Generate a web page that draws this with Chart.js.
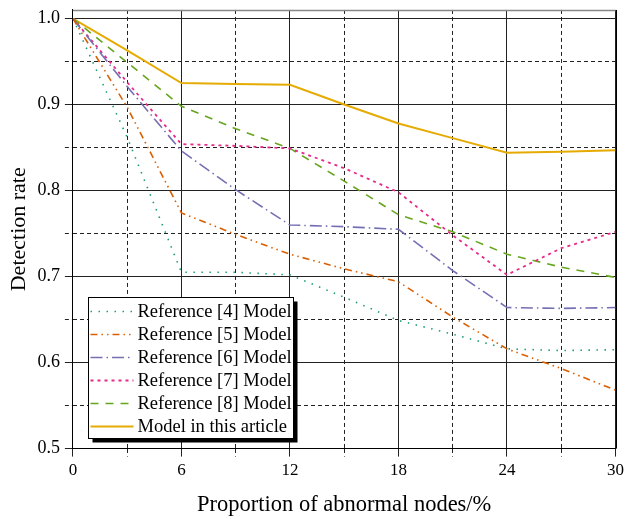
<!DOCTYPE html>
<html>
<head>
<meta charset="utf-8">
<script src="https://cdn.jsdelivr.net/npm/chart.js@4.4.1/dist/chart.umd.min.js"></script>
<style>
    html, body { margin: 0; padding: 0; background: #fff; }
    #wrap { width: 628px; height: 519px; }
</style>
</head>
<body>
<div id="wrap"><canvas id="chart" width="628" height="519"></canvas></div>
<script>
// proportion of abnormal nodes (%)
const proportions = [0, 3, 6, 9, 12, 15, 18, 21, 24, 27, 30];

// detection rate per model
const ref4Rates = [1.0, 0.862, 0.705, 0.705, 0.702, 0.676, 0.649, 0.633, 0.616, 0.614, 0.615];
const ref5Rates = [1.0, 0.897, 0.774, 0.749, 0.726, 0.709, 0.694, 0.653, 0.616, 0.593, 0.568];
const ref6Rates = [1.0, 0.921, 0.846, 0.801, 0.760, 0.758, 0.755, 0.707, 0.664, 0.663, 0.664];
const ref7Rates = [1.0, 0.926, 0.854, 0.852, 0.849, 0.826, 0.798, 0.748, 0.702, 0.733, 0.752];
const ref8Rates = [1.0, 0.949, 0.898, 0.872, 0.849, 0.811, 0.772, 0.752, 0.726, 0.711, 0.699];
const ownRates  = [1.0, 0.963, 0.925, 0.924, 0.923, 0.900, 0.878, 0.861, 0.844, 0.845, 0.847];

const seriesNames = [
    'Reference [4] Model',
    'Reference [5] Model',
    'Reference [6] Model',
    'Reference [7] Model',
    'Reference [8] Model',
    'Model in this article'
];

// axis ticks (minor ticks get dashed grid lines, no label)
const xTicks = [0, 3, 6, 9, 12, 15, 18, 21, 24, 27, 30];
const xLabelTicks = [0, 6, 12, 18, 24, 30];
const yTicks = [0.5, 0.55, 0.6, 0.65, 0.7, 0.75, 0.8, 0.85, 0.9, 0.95, 1.0];
const yLabelTicks = [0.5, 0.6, 0.7, 0.8, 0.9, 1.0];

const serif = '"Liberation Serif", "Times New Roman", serif';

const styles = [
    { color: '#1B9E77', dash: [1.5, 6.5], width: 1.6 },
    { color: '#D95F02', dash: [7, 4, 1.5, 4, 1.5, 4], width: 1.6 },
    { color: '#7570B3', dash: [12, 4, 1.5, 4], width: 1.6 },
    { color: '#E7298A', dash: [3, 4], width: 1.8 },
    { color: '#66A61E', dash: [8, 7], width: 1.6 },
    { color: '#E6AB02', dash: [], width: 2 }
];

const allRates = [ref4Rates, ref5Rates, ref6Rates, ref7Rates, ref8Rates, ownRates];

const datasets = allRates.map((rates, i) => ({
    label: seriesNames[i],
    data: rates.map((r, j) => ({ x: proportions[j], y: r })),
    borderColor: styles[i].color,
    backgroundColor: styles[i].color,
    borderDash: styles[i].dash,
    borderWidth: styles[i].width,
    pointRadius: 0,
    tension: 0,
    fill: false
}));

const isLabelTick = (list, v) => list.some(t => Math.abs(t - v) < 1e-6);

// dashed minor grid lines, solid major ones
function gridDash(list) {
    return function(c) {
        if (!c.tick) return [];
        return isLabelTick(list, c.tick.value) ? [] : [4, 3];
    };
}

const legendBox = {
    id: 'legendBox',
    afterDatasetsDraw(chart) {
        const { ctx, chartArea } = chart;

        // frame: grey top, black right
        ctx.save();
        ctx.lineWidth = 1.5;
        ctx.strokeStyle = '#888';
        ctx.beginPath();
        ctx.moveTo(chartArea.left, chartArea.top + 0.5);
        ctx.lineTo(chartArea.right, chartArea.top + 0.5);
        ctx.stroke();
        ctx.lineWidth = 1;
        ctx.strokeStyle = '#000';
        ctx.beginPath();
        ctx.moveTo(Math.round(chartArea.right) + 0.5, chartArea.top);
        ctx.lineTo(Math.round(chartArea.right) + 0.5, chartArea.bottom);
        ctx.stroke();

        const rowH = 23;
        const w = 205, h = 141;
        const x = Math.round(chartArea.left) + 15.5;
        const y = Math.round(chartArea.bottom) - 10.5 - h;

        ctx.fillStyle = '#000';
        ctx.fillRect(x + 4, y + 4, w, h);
        ctx.fillStyle = '#fff';
        ctx.fillRect(x, y, w, h);
        ctx.strokeStyle = '#000';
        ctx.lineWidth = 1;
        ctx.strokeRect(x, y, w, h);

        ctx.font = '18.5px ' + serif;
        ctx.textBaseline = 'middle';
        ctx.textAlign = 'left';
        chart.data.datasets.forEach((ds, i) => {
            const cy = y + 14 + i * rowH;
            ctx.beginPath();
            ctx.strokeStyle = ds.borderColor;
            ctx.lineWidth = ds.borderWidth;
            ctx.setLineDash(ds.borderDash);
            ctx.moveTo(x + 2, cy);
            ctx.lineTo(x + 45, cy);
            ctx.stroke();
            ctx.setLineDash([]);
            ctx.fillStyle = '#000';
            ctx.fillText(ds.label, x + 49, cy + 1);
        });
        ctx.restore();
    }
};

new Chart(document.getElementById('chart'), {
    type: 'line',
    data: { datasets },
    plugins: [legendBox],
    options: {
        responsive: false,
        animation: false,
        events: [],
        layout: {
            padding: { top: 0, right: 3, left: 6, bottom: 0 }
        },
        plugins: {
            legend: { display: false },
            tooltip: { enabled: false }
        },
        scales: {
            x: {
                type: 'linear',
                min: 0,
                max: 30,
                afterBuildTicks: axis => {
                    axis.ticks = xTicks.map(v => ({ value: v }));
                },
                ticks: {
                    autoSkip: false,
                    maxRotation: 0,
                    padding: 4,
                    color: '#000',
                    font: { family: serif, size: 17 },
                    callback: v => isLabelTick(xLabelTicks, v) ? String(v) : ''
                },
                grid: {
                    color: '#222',
                    lineWidth: 1,
                    tickLength: 8,
                    tickColor: '#222',
                    tickBorderDash: gridDash(xLabelTicks)
                },
                border: {
                    color: '#000',
                    dash: gridDash(xLabelTicks)
                },
                title: {
                    display: true,
                    text: 'Proportion of abnormal nodes/%',
                    color: '#000',
                    font: { family: serif, size: 22.5 },
                    padding: { top: 7, bottom: 0 }
                }
            },
            y: {
                min: 0.5,
                max: 1.01,
                afterBuildTicks: axis => {
                    axis.ticks = yTicks.map(v => ({ value: v }));
                },
                ticks: {
                    autoSkip: false,
                    padding: 5,
                    color: '#000',
                    font: { family: serif, size: 18, lineHeight: 0.55 },
                    callback: v => isLabelTick(yLabelTicks, v) ? v.toFixed(1) : ''
                },
                grid: {
                    color: '#222',
                    lineWidth: 1,
                    tickLength: 8,
                    tickColor: '#222',
                    tickBorderDash: gridDash(yLabelTicks)
                },
                border: {
                    color: '#000',
                    dash: gridDash(yLabelTicks)
                },
                title: {
                    display: true,
                    text: 'Detection rate',
                    color: '#000',
                    font: { family: serif, size: 22 },
                    padding: { top: 0, bottom: 0 }
                }
            }
        }
    }
});
</script>
</body>
</html>
